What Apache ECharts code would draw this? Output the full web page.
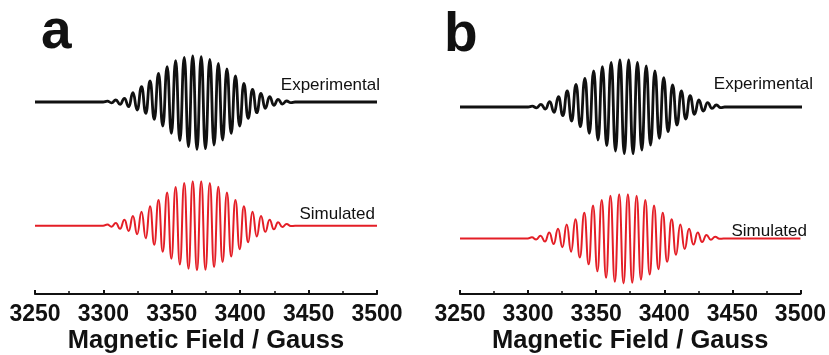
<!DOCTYPE html>
<html>
<head>
<meta charset="utf-8">
<title>EPR spectra</title>
<script src="https://cdn.jsdelivr.net/npm/echarts@6/dist/echarts.min.js"></script>
<style>
  html, body { margin: 0; padding: 0; background: #fff; }
  #chart { width: 829px; height: 355px; }
</style>
</head>
<body>
<div id="chart"></div>
<script>
// field positions (Gauss) of baseline ends and of each max/min
var fieldA = [3250, 3299.8,
  3302.9, 3306.0, 3309.1, 3312.2, 3315.4, 3318.5, 3321.6, 3324.7, 3327.9, 3331.0,
  3334.1, 3337.2, 3340.3, 3343.4, 3346.6, 3349.7, 3352.8, 3355.9, 3359.1, 3362.2,
  3365.3, 3368.4, 3371.5, 3374.6, 3377.8, 3380.9, 3384.0, 3387.1, 3390.3, 3393.4,
  3396.5, 3399.6, 3402.7, 3405.8, 3409.0, 3412.1, 3415.2, 3418.3, 3421.5, 3424.6,
  3427.7, 3430.8, 3433.9, 3437.0,
  3440.1, 3500]
var expA = [0, 0,
  0.8, -0.8, 2, -2.3, 3.7, -4.7, 9.3, -8, 15.3, -11.3,
  21, -17.3, 28.7, -24, 35.3, -31.3, 41.3, -38.7, 44.7, -44.7,
  46, -47.3, 45.3, -46.7, 42.7, -43, 38.7, -38, 33, -31.3,
  26, -24, 18.7, -16.3, 12.7, -10.7, 8.7, -6.3, 5.3, -3.3,
  2.7, -2, 1, -0.7,
  0, 0]
var simA = [0, 0,
  1.3, -1, 3, -3, 6.3, -5.3, 10.3, -8.7, 14.7, -13,
  20.3, -19.7, 27, -27, 34.7, -34.3, 40.3, -40.3, 44.7, -44.7,
  46.3, -46.3, 46.3, -45.7, 44.7, -43, 40.7, -37.7, 34.7, -32,
  27, -24.3, 20.3, -17, 14.7, -11, 10.3, -6.3, 6.3, -3.7,
  3.7, -1.3, 2, -0.3,
  0, 0]

var fieldB = [3250, 3299.8,
  3302.8, 3306.0, 3309.2, 3312.4, 3315.6, 3318.8, 3322.0, 3325.2, 3328.4, 3331.6,
  3334.8, 3338.0, 3341.3, 3344.5, 3347.7, 3350.9, 3354.1, 3357.3, 3360.5, 3363.7,
  3366.9, 3370.1, 3373.3, 3376.5, 3379.7, 3382.9, 3386.1, 3389.3, 3392.5, 3395.7,
  3398.9, 3402.1, 3405.4, 3408.6, 3411.8, 3415.0, 3418.2, 3421.4, 3424.6, 3427.8,
  3431.0, 3434.2, 3437.4, 3440.6,
  3443.5, 3500]
var expB = [0, 0,
  0.8, -0.8, 2.7, -2, 5.3, -5.3, 10.3, -8.7, 16, -14,
  22.7, -19.7, 28.7, -26.3, 36, -33, 40.3, -38.7, 44.7, -44,
  47, -46.7, 47, -46.7, 44.7, -43, 41, -38, 36, -31.3,
  29.3, -24.7, 22, -18, 16, -12, 11.3, -7.3, 7, -4,
  4.3, -1.3, 2, -0.7,
  0, 0]
var simB = [0, 0,
  1.3, -1, 3, -3, 6.3, -5.7, 10.3, -9, 14.7, -13.7,
  20.3, -19.7, 27, -27, 34.7, -34.3, 40.3, -41, 44.7, -45.3,
  46.3, -47, 46.3, -46.3, 44.7, -43, 40.3, -37.7, 34.7, -32,
  27, -24.3, 20.3, -17, 14.7, -11, 10.3, -6.3, 6.3, -3.7,
  3.7, -1.3, 2, -0.3,
  0, 0]

var fieldMin = 3250
var fieldMax = 3500
var fieldStep = 50
var axisName = 'Magnetic Field / Gauss'

var font = '"Liberation Sans", Arial, sans-serif'
var black = '#111'
var red = '#e41e26'

function pairs(xs, ys) {
  var out = []
  for (var i = 0; i < xs.length; i++) {
    out.push([xs[i], ys[i]])
  }
  return out
}

// hidden x axis for the upper traces, full axis for the lower ones
function xAxisFor(gridIndex, shown) {
  return {
    type: 'value',
    gridIndex: gridIndex,
    min: fieldMin,
    max: fieldMax,
    interval: fieldStep,
    show: shown,
    position: 'bottom',
    splitLine: { show: false },
    axisLine: { show: shown, onZero: false, lineStyle: { color: black, width: 2.2 } },
    axisTick: { show: shown, inside: true, length: 4, lineStyle: { color: black, width: 2 } },
    minorTick: { show: shown, splitNumber: 2, length: 3, lineStyle: { color: black, width: 1.5 } },
    axisLabel: {
      show: shown,
      margin: 9,
      color: black,
      fontFamily: font,
      fontWeight: 'bold',
      fontSize: 23,
      showMinLabel: true,
      showMaxLabel: true,
      formatter: function(v) {
        return String(v) // no thousands separator
      }
    },
    name: shown ? axisName : '',
    nameLocation: 'middle',
    nameGap: 34,
    nameTextStyle: { color: black, fontFamily: font, fontWeight: 'bold', fontSize: 25.5 }
  }
}

function yAxisFor(gridIndex, lo, hi) {
  return { type: 'value', gridIndex: gridIndex, min: lo, max: hi, show: false }
}

function trace(idx, xs, ys, color, width) {
  return {
    type: 'line',
    xAxisIndex: idx,
    yAxisIndex: idx,
    data: pairs(xs, ys),
    smooth: true,
    smoothMonotone: 'x',
    showSymbol: false,
    lineStyle: { color: color, width: width },
    silent: true
  }
}

function label(x, y, text, size, weight, align) {
  return {
    type: 'text',
    x: x,
    y: y,
    style: {
      text: text,
      fill: black,
      font: weight + ' ' + size + 'px ' + font,
      textAlign: align,
      textVerticalAlign: 'middle'
    }
  }
}

var chart = echarts.init(document.getElementById('chart'))
var option = {
  animation: false,
  backgroundColor: '#fff',
  grid: [
    { left: 35, width: 342, top: 47, height: 110 },   // a experimental
    { left: 35, width: 342, top: 173, height: 126 },  // a simulated + axis
    { left: 460, width: 342, top: 52, height: 110 },  // b experimental
    { left: 460, width: 342, top: 186, height: 113 }  // b simulated + axis
  ],
  xAxis: [xAxisFor(0, false), xAxisFor(1, true), xAxisFor(2, false), xAxisFor(3, true)],
  yAxis: [yAxisFor(0, -55, 55), yAxisFor(1, -71, 55), yAxisFor(2, -55, 55), yAxisFor(3, -58, 55)],
  series: [
    trace(0, fieldA, expA, black, 2.8),
    trace(1, fieldA, simA, red, 2),
    trace(2, fieldB, expB, black, 2.8),
    trace(3, fieldB, simB, red, 2)
  ],
  graphic: [
    label(41, 33, 'a', 55, 'bold', 'left'),
    label(444, 36, 'b', 55, 'bold', 'left'),
    label(380, 85, 'Experimental', 17, 'normal', 'right'),
    label(375, 214, 'Simulated', 17, 'normal', 'right'),
    label(813, 84, 'Experimental', 17, 'normal', 'right'),
    label(807, 231, 'Simulated', 17, 'normal', 'right')
  ]
}
chart.setOption(option)
window.addEventListener('resize', function() {
  chart.resize()
})
</script>
</body>
</html>
